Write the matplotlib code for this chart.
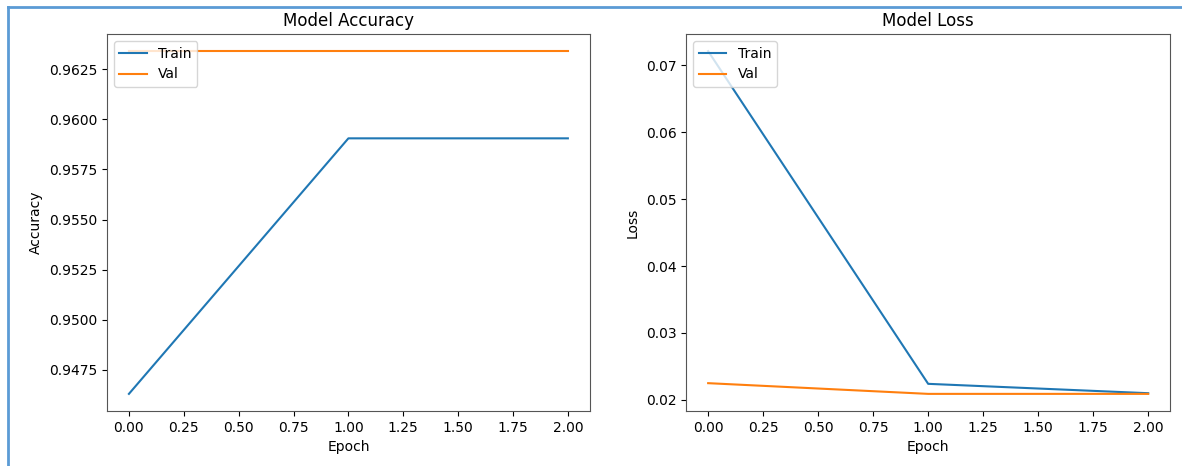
import matplotlib
matplotlib.use("Agg")
import matplotlib.pyplot as plt
from matplotlib.lines import Line2D

epochs = [0, 1, 2]
train_acc = [0.9463, 0.95905, 0.95905]
val_acc = [0.96340, 0.96340, 0.96340]
train_loss = [0.0721, 0.0224, 0.0210]
val_loss = [0.0225, 0.0209, 0.0209]

fig = plt.figure(figsize=(11.82, 4.66), dpi=100)
ax1 = fig.add_axes([0.0905, 0.118, 0.4085, 0.809])
ax2 = fig.add_axes([0.5805, 0.118, 0.4095, 0.809])

ax1.plot(epochs, train_acc, label="Train")
ax1.plot(epochs, val_acc, label="Val")
ax1.set_title("Model Accuracy")
ax1.set_xlabel("Epoch")
ax1.set_ylabel("Accuracy")
ax1.legend(loc="upper left")

ax2.plot(epochs, train_loss, label="Train")
ax2.plot(epochs, val_loss, label="Val")
ax2.set_title("Model Loss")
ax2.set_xlabel("Epoch")
ax2.set_ylabel("Loss")
ax2.legend(loc="upper left")

for ax in (ax1, ax2):
    for s in ax.spines.values():
        s.set_color("#555555")

# screenshot frame
fig.add_artist(Line2D([8/1182, 8/1182], [0, 1 - 7/466], color="#5b9bd5", lw=2, transform=fig.transFigure))
fig.add_artist(Line2D([8/1182, 1], [1 - 7/466, 1 - 7/466], color="#5b9bd5", lw=2, transform=fig.transFigure))

fig.savefig("out.png", dpi=100)
